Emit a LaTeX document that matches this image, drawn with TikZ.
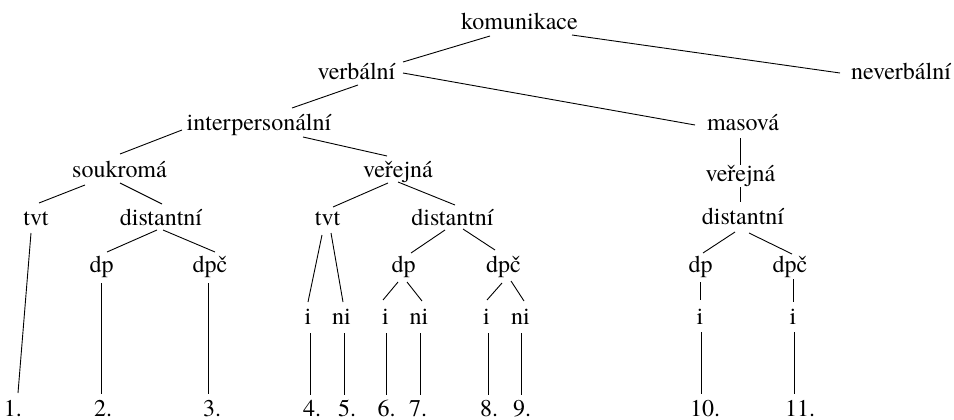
\documentclass[tikz,border=0pt]{standalone}
\usepackage{fontspec}
\setmainfont{TeX Gyre Termes}
\usetikzlibrary{calc}
\tikzset{
  lbl/.style={anchor=base, inner sep=0pt, font=\rmfamily\fontsize{24}{28}\selectfont},
  conn/.style={line width=0.9pt, draw=black}
}
\newcommand\lnk[6]{\draw[conn] ($(#1.base)+(#2,#3)$) -- ($(#4.base)+(#5,#6)$);}
\begin{document}
\begin{tikzpicture}[x=1pt,y=-1pt]
\useasboundingbox (0,0) rectangle (954,420);
\node[lbl] (kom) at (519.5,30) {komunikace};
\node[lbl] (verb) at (356.5,80) {verbální};
\node[lbl] (nev) at (901,80) {neverbální};
\node[lbl] (inter) at (259,131) {interpersonální};
\node[lbl] (mas) at (743,130) {masová};
\node[lbl] (souk) at (119.5,177) {soukromá};
\node[lbl] (verL) at (398,177) {veřejná};
\node[lbl] (verR) at (740.5,181) {veřejná};
\node[lbl] (tvtL) at (36,225) {tvt};
\node[lbl] (disL) at (161,225) {distantní};
\node[lbl] (tvtM) at (327.5,225) {tvt};
\node[lbl] (disM) at (452.5,225) {distantní};
\node[lbl] (disR) at (743,224) {distantní};
\node[lbl] (dpL) at (101.5,272) {dp};
\node[lbl] (dpcL) at (210,272) {dpč};
\node[lbl] (dpM) at (403.5,272) {dp};
\node[lbl] (dpcM) at (503.5,272) {dpč};
\node[lbl] (dpR) at (700.5,272) {dp};
\node[lbl] (dpcR) at (790,272) {dpč};
\node[lbl] (i4) at (308,324) {i};
\node[lbl] (ni5) at (341.5,324) {ni};
\node[lbl] (i6) at (385.5,324) {i};
\node[lbl] (ni7) at (419,324) {ni};
\node[lbl] (i8) at (486.5,324) {i};
\node[lbl] (ni9) at (520.5,324) {ni};
\node[lbl] (i10) at (700,324) {i};
\node[lbl] (i11) at (793,324) {i};
\node[lbl] (n1) at (13,416) {1.};
\node[lbl] (n2) at (103,416) {2.};
\node[lbl] (n3) at (212,416) {3.};
\node[lbl] (n4) at (312,416) {4.};
\node[lbl] (n5) at (347,416) {5.};
\node[lbl] (n6) at (386.5,416) {6.};
\node[lbl] (n7) at (418,416) {7.};
\node[lbl] (n8) at (489,416) {8.};
\node[lbl] (n9) at (522,416) {9.};
\node[lbl] (n10) at (705,416) {10.};
\node[lbl] (n11) at (800,416) {11.};
% connectors
\lnk{kom}{-29.5}{6}{verb}{46.5}{-18}
\lnk{kom}{52.5}{5}{nev}{-61}{-7}
\lnk{verb}{1.5}{5}{inter}{33}{-23}
\lnk{verb}{46.5}{-7}{mas}{-48}{-5}
\lnk{inter}{-77}{-1}{souk}{0.5}{-23}
\lnk{inter}{44}{6}{verL}{-11}{-21}
\lnk{souk}{-34.5}{8}{tvtL}{3}{-22}
\lnk{souk}{0.5}{6}{disL}{1}{-21}
\lnk{verL}{-10}{6}{tvtM}{5.5}{-18}
\lnk{verL}{0}{5}{disM}{2.5}{-20}
\lnk{mas}{-2.5}{8}{verR}{0}{-16}
\lnk{verR}{0}{6}{disR}{-2.5}{-22}
\lnk{tvtL}{-5}{8}{n1}{5}{-23}
\lnk{disL}{-4}{5}{dpL}{5.5}{-20}
\lnk{disL}{2}{5}{dpcL}{5}{-20}
\lnk{tvtM}{-5.5}{10}{i4}{0}{-22}
\lnk{tvtM}{3.5}{8}{ni5}{1.5}{-22}
\lnk{disM}{-7.5}{5}{dpM}{7.5}{-19}
\lnk{disM}{10.5}{4}{dpcM}{-8.5}{-22}
\lnk{disR}{-8}{8}{dpR}{2.5}{-19}
\lnk{disR}{6}{9}{dpcR}{2}{-18}
\lnk{dpL}{-0.5}{11}{n2}{-2}{-22}
\lnk{dpcL}{-2}{11}{n3}{-4}{-22}
\lnk{dpM}{-5.5}{10}{i6}{-2.5}{-24}
\lnk{dpM}{3.5}{10}{ni7}{3}{-23}
\lnk{dpcM}{-1.5}{11}{i8}{0.5}{-24}
\lnk{dpcM}{7.5}{9}{ni9}{3.5}{-23}
\lnk{dpR}{-0.5}{10}{i10}{0}{-24}
\lnk{dpcR}{3}{7}{i11}{0}{-22}
\lnk{i4}{2}{9}{n4}{-2}{-21}
\lnk{ni5}{2.5}{9}{n5}{-3}{-21}
\lnk{i6}{0.5}{9}{n6}{-0.5}{-21}
\lnk{ni7}{1}{9}{n7}{2}{-21}
\lnk{i8}{1.5}{9}{n8}{-1}{-21}
\lnk{ni9}{0.5}{9}{n9}{-1}{-21}
\lnk{i10}{1}{8}{n10}{-4}{-22}
\lnk{i11}{1}{8}{n11}{-6}{-22}
\end{tikzpicture}
\end{document}
